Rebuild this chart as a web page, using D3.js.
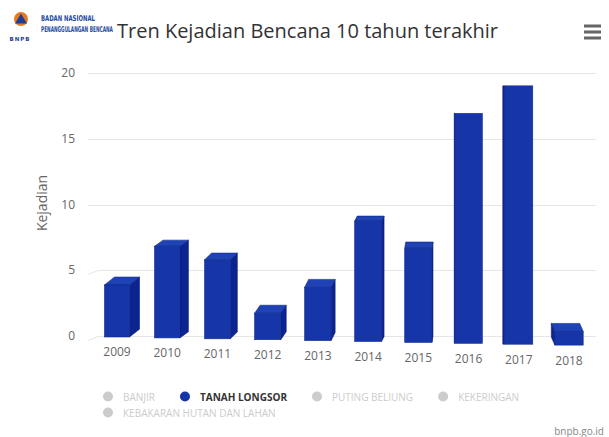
<!DOCTYPE html>
<html><head><meta charset="utf-8">
<script src="https://cdn.jsdelivr.net/npm/d3@7"></script>
<style>body{margin:0;background:#fff}svg{display:block}</style>
</head><body>
<script>
const categories = ['2009','2010','2011','2012','2013','2014','2015','2016','2017','2018'];
const tanahLongsor = [4,7,6,2,4,9,7,17,19,1];
const yTicks = [0,5,10,15,20];
const legendItems = ['BANJIR','TANAH LONGSOR','PUTING BELIUNG','KEKERINGAN','KEBAKARAN HUTAN DAN LAHAN'];
const legendActive = [false,true,false,false,false];
const titleText = 'Tren Kejadian Bencana 10 tahun terakhir';
const yTitle = 'Kejadian';
const credit = 'bnpb.go.id';

const W=609,H=437;
const svg=d3.select('body').append('svg').attr('width',W).attr('height',H);
const font="'Open Sans', sans-serif";

const y=d3.scaleLinear().domain([0,20]).range([336,73]);
const x=d3.scalePoint().domain(categories).range([117,569]);

// gridlines
const grid=svg.append('g');
yTicks.forEach(t=>{
  const yy=Math.round(y(t))+0.5;
  const slant = t<=5 ? 4 : 0;
  grid.append('path').attr('d',`M${88},${yy+slant}L${98},${yy}L${596},${yy}`)
    .attr('fill','none').attr('stroke','#e6e6e6').attr('stroke-width',1);
});
// y labels
svg.append('g').selectAll('text').data(yTicks).join('text')
  .attr('x',75).attr('y',d=>y(d)+4).attr('text-anchor','end')
  .attr('font-family',font).attr('font-size',12).attr('fill','#666').text(d=>d);
svg.append('text').attr('transform','translate(47,203) rotate(-90)')
  .attr('text-anchor','middle').attr('font-family',font).attr('font-size',14)
  .attr('fill','#666').text(yTitle);

// bars with 3D look
const bars=svg.append('g');
tanahLongsor.forEach((v,i)=>{
  const cx=x(categories[i]);
  const w=25*(1+0.015*i);
  const bottom=337+0.9*i;
  const h=(y(0)-y(v))*(0.99+0.0055*i);
  const top=bottom-h;
  const xl=cx-w/2, xr=cx+w/2;
  const dx=10-1.5*i;
  const dy=-Math.min(8,Math.max(0,(top-110)*0.045));
  const sx = dx>=0 ? xr : xl;
  bars.append('path').attr('d',`M${sx},${top}L${sx+dx},${top+dy}L${sx+dx},${bottom+dy}L${sx},${bottom}Z`)
    .attr('fill','#0b2490').attr('stroke','#0a1f78').attr('stroke-width',0.6);
  if(dy<-0.5){
    bars.append('path').attr('d',`M${xl},${top}L${xl+dx},${top+dy}L${xr+dx},${top+dy}L${xr},${top}Z`)
      .attr('fill','#1f42b4').attr('stroke','#0e2a8a').attr('stroke-width',0.6);
  }
  bars.append('rect').attr('x',xl).attr('y',top).attr('width',w).attr('height',h)
    .attr('fill','#1535a8').attr('stroke','#0e2a8a').attr('stroke-width',0.6);
  svg.append('text').attr('x',cx).attr('y',351+1.1*i+4.5).attr('text-anchor','middle')
    .attr('font-family',font).attr('font-size',12).attr('fill','#666').text(categories[i]);
});

// title
svg.append('text').attr('x',117).attr('y',38).attr('font-family',font).attr('font-size',20)
  .attr('fill','#333').text(titleText);

// logo
const logo=svg.append('g');
logo.append('circle').attr('cx',21).attr('cy',19).attr('r',7).attr('fill','#e67a23');
logo.append('path').attr('d','M21,13.5L27,23.5L15,23.5Z').attr('fill','#1c3f95');
logo.append('text').attr('x',20).attr('y',41).attr('text-anchor','middle')
  .attr('font-family',"'DejaVu Sans'").attr('font-weight','bold').attr('font-size',5.5)
  .attr('letter-spacing',1).attr('fill','#1c3f95').text('BNPB');
const lt1=logo.append('text').attr('x',0).attr('y',0).attr('font-family',"'DejaVu Sans Condensed','DejaVu Sans'")
  .attr('font-weight','bold').attr('font-size',8).attr('fill','#1c4aa0').text('BADAN NASIONAL');
const lt2=logo.append('text').attr('x',0).attr('y',0).attr('font-family',"'DejaVu Sans Condensed','DejaVu Sans'")
  .attr('font-weight','bold').attr('font-size',8).attr('fill','#1c4aa0').text('PENANGGULANGAN BENCANA');
const s1=54/lt1.node().getComputedTextLength();
const s2=72/lt2.node().getComputedTextLength();
lt1.attr('transform',`translate(41,21) scale(${s1},1)`);
lt2.attr('transform',`translate(41,32) scale(${s2},1)`);

// menu icon
[26,32,38].forEach(yy=>{
  svg.append('rect').attr('x',584).attr('y',yy-1.5).attr('width',17).attr('height',3)
    .attr('fill','#666');
});

// legend
const lg=svg.append('g');
let lx=108, ly=397;
legendItems.forEach((name,i)=>{
  if(i===4){lx=108; ly=413;}
  const active=legendActive[i];
  lg.append('circle').attr('cx',lx).attr('cy',ly-0.5).attr('r',5)
    .attr('fill',active?'#1535a8':'#cccccc');
  const t=lg.append('text').attr('x',lx+15).attr('y',ly+3.5).attr('font-family',font)
    .attr('font-size',10).attr('font-weight',active?'bold':'normal')
    .attr('fill',active?'#333':'#cccccc').text(name);
  const len=t.node().getComputedTextLength();
  lx=lx+15+len+30;
});

svg.append('text').attr('x',604).attr('y',435).attr('text-anchor','end')
  .attr('font-family',font).attr('font-size',10).attr('fill','#888').text(credit);
</script>
</body></html>
